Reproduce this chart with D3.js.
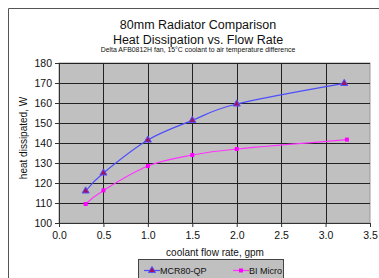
<!DOCTYPE html>
<html><head><meta charset="utf-8">
<script src="https://cdn.jsdelivr.net/npm/d3@7"></script>
<style>body{margin:0;background:#fff}svg{display:block;font-family:"Liberation Sans",Arial,sans-serif}</style>
</head><body>
<script>
const flowMCR = [0.3, 0.5, 1.0, 1.5, 2.0, 3.21];
const heatMCR = [116, 125, 141.5, 151.3, 159.5, 169.8];
const flowBI = [0.3, 0.5, 1.0, 1.5, 2.0, 3.24];
const heatBI = [109.5, 116.3, 128.5, 134, 137, 141.7];
const xTicks = [0, 0.5, 1.0, 1.5, 2.0, 2.5, 3.0, 3.5];
const yTicks = [100, 110, 120, 130, 140, 150, 160, 170, 180];
const seriesNames = ["MCR80-QP", "BI Micro"];

const W = 379, H = 278;
const svg = d3.select("body").append("svg").attr("width", W).attr("height", H);
// outer chart border
svg.append("path").attr("d", "M8.5,300 L8.5,8.5 L400,8.5").attr("fill", "none").attr("stroke", "#555").attr("stroke-width", 1);

const x = d3.scaleLinear().domain([0, 3.5]).range([59, 370]);
const y = d3.scaleLinear().domain([100, 180]).range([223, 63]);

svg.append("rect").attr("x", x(0)).attr("y", y(180)).attr("width", x(3.5) - x(0)).attr("height", y(100) - y(180)).attr("fill", "#c0c0c0").attr("stroke", "#999");

const g = svg.append("g");
g.selectAll(".hg").data(yTicks).join("line").attr("x1", x(0)).attr("x2", x(3.5)).attr("y1", d => Math.round(y(d)) + 0.5).attr("y2", d => Math.round(y(d)) + 0.5).attr("stroke", "#222");
g.selectAll(".vg").data(xTicks.slice(1, -1)).join("line").attr("y1", y(180)).attr("y2", y(100)).attr("x1", d => Math.round(x(d)) + 0.5).attr("x2", d => Math.round(x(d)) + 0.5).attr("stroke", "#222");

const yAxis = d3.axisLeft(y).tickValues(yTicks).tickFormat(d3.format("d")).tickSize(4).tickPadding(3);
const ya = svg.append("g").attr("transform", `translate(${x(0)},0)`).call(yAxis);
const xAxis = d3.axisBottom(x).tickValues(xTicks).tickFormat(d3.format(".1f")).tickSize(4).tickPadding(5);
const xa = svg.append("g").attr("transform", `translate(0,${y(100)})`).call(xAxis);
[ya, xa].forEach(a => {
  a.selectAll("path").attr("stroke", "#333");
  a.selectAll("line").attr("stroke", "#333");
  a.selectAll("text").attr("font-size", 10.5).attr("fill", "#111").attr("font-family", "Liberation Sans, Arial, sans-serif");
});

const line = d3.line().x(d => x(d[0])).y(d => y(d[1])).curve(d3.curveCatmullRom.alpha(0));
const mcr = flowMCR.map((f, i) => [f, heatMCR[i]]);
const bi = flowBI.map((f, i) => [f, heatBI[i]]);
svg.append("path").attr("d", line(mcr)).attr("fill", "none").attr("stroke", "#4d4dff").attr("stroke-width", 1.2);
svg.append("path").attr("d", line(bi)).attr("fill", "none").attr("stroke", "#ff33ff").attr("stroke-width", 1.2);
const tri = d3.symbol().type(d3.symbolTriangle).size(22);
svg.selectAll(".m1").data(mcr).join("path").attr("d", tri).attr("transform", d => `translate(${x(d[0])},${y(d[1])})`).attr("fill", "#a01060").attr("stroke", "#5555ff").attr("stroke-width", 1);
svg.selectAll(".m2").data(bi).join("rect").attr("x", d => x(d[0]) - 2).attr("y", d => y(d[1]) - 2).attr("width", 4).attr("height", 4).attr("fill", "#ff00ff");

// titles
const t = svg.append("g").attr("text-anchor", "middle").attr("fill", "#111");
t.append("text").attr("x", 198).attr("y", 29).attr("font-size", 12.5).text("80mm Radiator Comparison");
t.append("text").attr("x", 198).attr("y", 44).attr("font-size", 12.5).text("Heat Dissipation vs. Flow Rate");
t.append("text").attr("x", 198).attr("y", 52).attr("font-size", 6.9).text("Delta AFB0812H fan, 15°C coolant to air temperature difference");
svg.append("text").attr("text-anchor", "middle").attr("transform", "translate(27,138) rotate(-90)").attr("font-size", 10).attr("fill", "#111").text("heat dissipated, W");
svg.append("text").attr("text-anchor", "middle").attr("x", 215).attr("y", 256).attr("font-size", 10).attr("fill", "#111").text("coolant flow rate, gpm");

// legend
const lg = svg.append("g");
lg.append("rect").attr("x", 138.5).attr("y", 259.5).attr("width", 145).attr("height", 22).attr("fill", "#c0c0c0").attr("stroke", "#444");
const items = [{name: seriesNames[0], x0: 144, color: "#4d4dff"}, {name: seriesNames[1], x0: 233, color: "#ff33ff"}];
items.forEach((it, i) => {
  lg.append("line").attr("x1", it.x0).attr("x2", it.x0 + 16).attr("y1", 270.5).attr("y2", 270.5).attr("stroke", it.color).attr("stroke-width", 1.2);
  if (i === 0) lg.append("path").attr("d", tri).attr("transform", `translate(${it.x0 + 8},270.5)`).attr("fill", "#a01060").attr("stroke", "#5555ff");
  else lg.append("rect").attr("x", it.x0 + 6).attr("y", 268.5).attr("width", 4).attr("height", 4).attr("fill", "#ff00ff");
  lg.append("text").attr("x", it.x0 + 16).attr("y", 274).attr("font-size", 9).attr("fill", "#111").text(it.name);
});
</script>
</body></html>
